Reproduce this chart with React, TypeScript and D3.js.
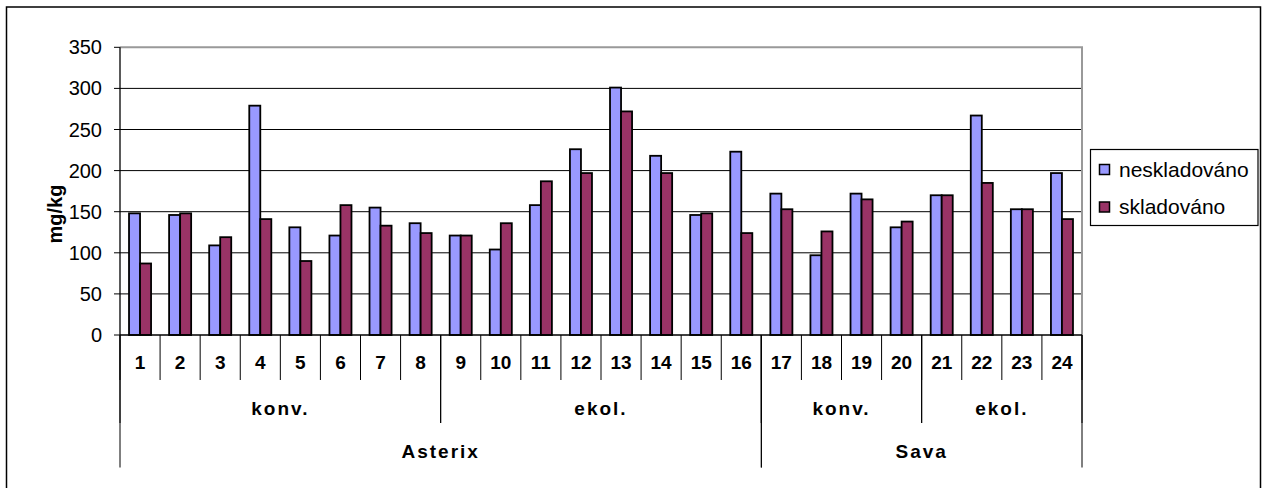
import React from "react";
import * as d3 from "d3";

// Sample numbers 1–24 and their measured contents (mg/kg)
const categories = Array.from({ length: 24 }, (_, i) => String(i + 1));
const seriesNames = ["neskladováno", "skladováno"];
const neskladovano = [148, 146, 109, 279, 131, 121, 155, 136, 121, 104, 158, 226, 301, 218, 146, 223, 172, 97, 172, 131, 170, 267, 153, 197];
const skladovano = [87, 148, 119, 141, 90, 158, 133, 124, 121, 136, 187, 197, 272, 197, 148, 124, 153, 126, 165, 138, 170, 185, 153, 141];
const yTicks = [0, 50, 100, 150, 200, 250, 300, 350];

// Grouping levels of the category axis: [label, first index, last index]
const cultivation: [string, number, number][] = [
  ["konv.", 0, 7],
  ["ekol.", 8, 15],
  ["konv.", 16, 19],
  ["ekol.", 20, 23],
];
const variety: [string, number, number][] = [
  ["Asterix", 0, 15],
  ["Sava", 16, 23],
];

const colors = ["#9999FF", "#993366"];
const FONT = "'Liberation Sans', Arial, sans-serif";

export default function App() {
  const W = 1267;
  const H = 488;
  const left = 120;
  const right = 1082;
  const top = 47.3;
  const bottom = 335;

  const x = d3.scaleBand<string>().domain(categories).range([left, right]).padding(0);
  const bw = x.bandwidth();
  const x1 = d3.scaleBand<string>().domain(seriesNames).range([bw * 0.225, bw * 0.775]).padding(0);
  const y = d3.scaleLinear().domain([0, 350]).range([bottom, top]);
  const values = [neskladovano, skladovano];

  const edge = (i: number) => (i < categories.length ? (x(categories[i]) as number) : right);

  const row1Y = 380;
  const row2Y = 423;
  const row3Y = 467.5;

  return (
    <svg
      width={W}
      height={H}
      style={{ position: "absolute", left: 0, top: 0, background: "#fff" }}
      fontFamily={FONT}
    >
      {/* chart frame */}
      <rect x={6.5} y={7} width={1254} height={500} fill="#fff" stroke="#000" strokeWidth={1.5} />

      {/* gridlines */}
      {yTicks.slice(1, -1).map((t) => (
        <line key={"g" + t} x1={left} x2={right} y1={y(t)} y2={y(t)} stroke="#000" strokeWidth={1} />
      ))}
      {/* plot area border (top & right) */}
      <path d={`M${left},${top}H${right}V${bottom}`} fill="none" stroke="#999" strokeWidth={2} />

      {/* bars */}
      {values.map((vals, s) =>
        vals.map((v, i) => (
          <rect
            key={`b${s}-${i}`}
            x={(x(categories[i]) as number) + (x1(seriesNames[s]) as number)}
            y={y(v)}
            width={x1.bandwidth()}
            height={bottom - y(v)}
            fill={colors[s]}
            stroke="#000"
            strokeWidth={1.8}
          />
        ))
      )}

      {/* y axis */}
      <line x1={left} x2={left} y1={top} y2={bottom} stroke="#000" strokeWidth={1.3} />
      {yTicks.map((t) => (
        <g key={"t" + t}>
          <line x1={left - 6} x2={left} y1={y(t)} y2={y(t)} stroke="#000" strokeWidth={1} />
          <text x={102} y={y(t)} dy="0.35em" textAnchor="end" fontSize={20} fill="#000">
            {t}
          </text>
        </g>
      ))}
      <text
        transform={`translate(55,214) rotate(-90)`}
        textAnchor="middle"
        dy="0.35em"
        fontSize={20}
        fontWeight="bold"
        fill="#000"
      >
        mg/kg
      </text>

      {/* x axis baseline */}
      <line x1={left} x2={right} y1={bottom} y2={bottom} stroke="#000" strokeWidth={1.5} />

      {/* level 1: sample numbers */}
      {categories.map((c, i) => (
        <g key={"c" + c}>
          <line x1={edge(i)} x2={edge(i)} y1={bottom} y2={row1Y} stroke="#000" strokeWidth={1} />
          <text
            x={(x(c) as number) + bw / 2}
            y={362}
            dy="0.35em"
            textAnchor="middle"
            fontSize={19}
            fontWeight="bold"
            fill="#000"
          >
            {c}
          </text>
        </g>
      ))}
      <line x1={right} x2={right} y1={bottom} y2={row1Y} stroke="#000" strokeWidth={1} />

      {/* level 2: cultivation */}
      {cultivation.map(([label, a, b], k) => (
        <g key={"cu" + k}>
          <line x1={edge(a)} x2={edge(a)} y1={bottom} y2={row2Y} stroke="#000" strokeWidth={1} />
          <line x1={edge(b + 1)} x2={edge(b + 1)} y1={bottom} y2={row2Y} stroke="#000" strokeWidth={1} />
          <text
            x={(edge(a) + edge(b + 1)) / 2}
            y={408}
            dy="0.35em"
            textAnchor="middle"
            fontSize={19}
            fontWeight="bold"
            letterSpacing={2}
            fill="#000"
          >
            {label}
          </text>
        </g>
      ))}

      {/* level 3: variety */}
      {variety.map(([label, a, b], k) => (
        <g key={"v" + k}>
          <line x1={edge(a)} x2={edge(a)} y1={bottom} y2={row3Y} stroke="#000" strokeWidth={1} />
          <line x1={edge(b + 1)} x2={edge(b + 1)} y1={bottom} y2={row3Y} stroke="#000" strokeWidth={1} />
          <text
            x={(edge(a) + edge(b + 1)) / 2}
            y={451}
            dy="0.35em"
            textAnchor="middle"
            fontSize={19}
            fontWeight="bold"
            letterSpacing={2}
            fill="#000"
          >
            {label}
          </text>
        </g>
      ))}

      {/* legend */}
      <rect x={1090.5} y={149.5} width={167.5} height={76} fill="#fff" stroke="#000" strokeWidth={1.2} />
      {seriesNames.map((name, s) => {
        const cy = 169.5 + s * 37.5;
        return (
          <g key={"l" + s}>
            <rect x={1099.5} y={cy - 5} width={10} height={10} fill={colors[s]} stroke="#000" strokeWidth={1.5} />
            <text x={1119} y={cy} dy="0.35em" fontSize={21} fill="#000">
              {name}
            </text>
          </g>
        );
      })}
    </svg>
  );
}
